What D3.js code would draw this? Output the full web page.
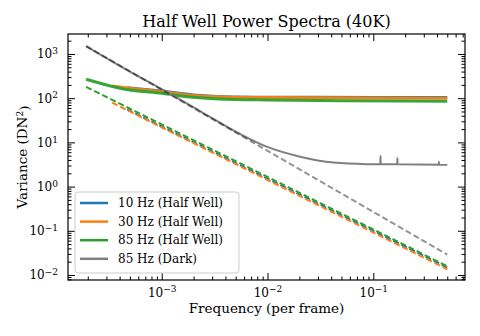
<!DOCTYPE html>
<html>
<head>
<meta charset="utf-8">
<script src="https://cdn.jsdelivr.net/npm/d3@7"></script>
<style>
  body { margin: 0; background: #fff; }
  svg { font-family: "DejaVu Serif", serif; }
</style>
</head>
<body>
<div id="chart"></div>
<script>
/* Data: [frequency (per frame), variance (DN^2)] */

var blueHalf = [[4.7e-4, 172], [7e-4, 158], [1e-3, 145], [2e-3, 118], [4e-3, 108], [1e-2, 105], [0.1, 104], [0.5, 104]];
var orangeHalf = [[3.4e-4, 190], [5e-4, 168], [1e-3, 140], [2e-3, 115], [4e-3, 106], [1e-2, 103], [0.1, 101], [0.5, 100]];
var greenHalf = [[1.93e-4, 268], [3.5e-4, 182], [5e-4, 153], [1e-3, 129], [1.85e-3, 106], [3.5e-3, 96], [1e-2, 91], [0.05, 88], [0.5, 85]];
var grayDark = [[1.93e-4, 1500], [5e-4, 400], [1e-3, 160], [2.3e-3, 51], [5.5e-3, 15.5], [9.8e-3, 8.0], [0.0203, 4.75], [0.042, 3.5],
  [0.0865, 3.22], [0.1165, 3.2], [0.117, 4.9], [0.1175, 3.2], [0.1685, 3.2], [0.169, 4.4], [0.1695, 3.2],
  [0.416, 3.12], [0.417, 3.66], [0.418, 3.12], [0.5, 3.1]];

// power-law fits (straight in log-log), endpoints only
var blueFit = [[4.7e-4, 56], [0.5, 0.0148]];
var orangeFit = [[3.4e-4, 79], [0.5, 0.0135]];
var greenFit = [[1.93e-4, 180], [0.5, 0.0158]];
var grayFit = [[1.93e-4, 1500], [0.5, 0.029]];

var legendLabels = ["10 Hz (Half Well)", "30 Hz (Half Well)", "85 Hz (Half Well)", "85 Hz (Dark)"];
var colors = ["#1f77b4", "#ff7f0e", "#2ca02c", "#7f7f7f"];

var xMajor = [1e-3, 1e-2, 1e-1];
var yMajor = [1e-2, 1e-1, 1e0, 1e1, 1e2, 1e3];

/* Layout */

var width = 480, height = 336;
var pL = 68, pR = 465, pT = 34, pB = 280;

var svg = d3.select("#chart").append("svg")
	.attr("width", width)
	.attr("height", height);

var x = d3.scaleLog().domain([Math.pow(10, -3.886), Math.pow(10, -0.1333)]).range([pL, pR]);
var y = d3.scaleLog().domain([Math.pow(10, -2.113), Math.pow(10, 3.452)]).range([pB, pT]);

function minors(scale) {
	var d = scale.domain(), out = [];
	for (var e = Math.floor(Math.log10(d[0])); e <= Math.ceil(Math.log10(d[1])); e++) {
		for (var m = 2; m <= 9; m++) {
			var v = m * Math.pow(10, e);
			if (v >= d[0] && v <= d[1]) out.push(v);
		}
	}
	return out;
}

function supLabel(sel) { // turn "1e-3" ticks into 10 with superscript
	sel.selectAll("text").each(function(d) {
		var t = d3.select(this), e = Math.round(Math.log10(d));
		t.text(null);
		t.append("tspan").text("10");
		t.append("tspan").attr("dy", "-0.45em").attr("font-size", "9px")
			.text(String(e).replace("-", "\u2212"));
	});
}

/* Axes (ticks pointing in, on all four sides) */

var gx = svg.append("g").attr("transform", "translate(0," + pB + ")");
gx.call(d3.axisBottom(x).tickValues(minors(x)).tickSizeInner(-3.5).tickSizeOuter(0).tickFormat(""));
gx.append("g").call(d3.axisBottom(x).tickValues(xMajor).tickSizeInner(-7).tickSizeOuter(0).tickPadding(8))
	.call(supLabel);

var gxt = svg.append("g").attr("transform", "translate(0," + pT + ")");
gxt.call(d3.axisTop(x).tickValues(minors(x)).tickSizeInner(-3.5).tickSizeOuter(0).tickFormat(""));
gxt.append("g").call(d3.axisTop(x).tickValues(xMajor).tickSizeInner(-7).tickSizeOuter(0).tickFormat(""));

var gy = svg.append("g").attr("transform", "translate(" + pL + ",0)");
gy.call(d3.axisLeft(y).tickValues(minors(y)).tickSizeInner(-3.5).tickSizeOuter(0).tickFormat(""));
gy.append("g").call(d3.axisLeft(y).tickValues(yMajor).tickSizeInner(-7).tickSizeOuter(0).tickPadding(10))
	.call(supLabel);

var gyr = svg.append("g").attr("transform", "translate(" + pR + ",0)");
gyr.call(d3.axisRight(y).tickValues(minors(y)).tickSizeInner(-3.5).tickSizeOuter(0).tickFormat(""));
gyr.append("g").call(d3.axisRight(y).tickValues(yMajor).tickSizeInner(-7).tickSizeOuter(0).tickFormat(""));

svg.selectAll(".domain").remove();
svg.selectAll(".tick line").attr("stroke", "#000").attr("stroke-width", 1);
svg.selectAll(".tick text").attr("font-family", "DejaVu Serif").attr("font-size", "12px").attr("fill", "#000");

/* Lines */

var plot = svg.append("g");
plot.append("clipPath").attr("id", "clip").append("rect")
	.attr("x", pL).attr("y", pT).attr("width", pR - pL).attr("height", pB - pT);
plot.attr("clip-path", "url(#clip)");

var line = d3.line().x(function(d) { return x(d[0]); }).y(function(d) { return y(d[1]); });
var smooth = d3.line().curve(d3.curveMonotoneX).x(function(d) { return x(d[0]); }).y(function(d) { return y(d[1]); });

var series = [
	{ data: blueHalf, fit: blueFit, color: colors[0] },
	{ data: orangeHalf, fit: orangeFit, color: colors[1] },
	{ data: greenHalf, fit: greenFit, color: colors[2] }
];
series.forEach(function(s) {
	plot.append("path").attr("d", smooth(s.data)).attr("fill", "none")
		.attr("stroke", s.color).attr("stroke-width", 3).attr("stroke-opacity", 0.95);
	plot.append("path").attr("d", line(s.fit)).attr("fill", "none")
		.attr("stroke", s.color).attr("stroke-width", 2).attr("stroke-dasharray", "6,3");
});

plot.append("path").attr("d", smooth(grayDark)).attr("fill", "none")
	.attr("stroke", colors[3]).attr("stroke-width", 2);
plot.append("path").attr("d", line(grayFit)).attr("fill", "none")
	.attr("stroke", "#000").attr("stroke-opacity", 0.42).attr("stroke-width", 2).attr("stroke-dasharray", "6,3");

/* Frame */

svg.append("rect").attr("x", pL).attr("y", pT).attr("width", pR - pL).attr("height", pB - pT)
	.attr("fill", "none").attr("stroke", "#000").attr("stroke-width", 1.2);

/* Legend */

var legend = svg.append("g").attr("transform", "translate(75,192)");
legend.append("rect").attr("width", 164).attr("height", 81).attr("rx", 3)
	.attr("fill", "#fff").attr("fill-opacity", 0.8).attr("stroke", "#ccc");
legendLabels.forEach(function(l, i) {
	var yy = 11 + i * 18.6;
	legend.append("line").attr("x1", 5).attr("x2", 33).attr("y1", yy).attr("y2", yy)
		.attr("stroke", colors[i]).attr("stroke-width", 2.5);
	legend.append("text").attr("x", 43).attr("y", yy).attr("dy", "0.35em")
		.attr("font-size", "12px").text(l);
});

/* Titles */

svg.append("text").attr("x", (pL + pR) / 2).attr("y", 27).attr("text-anchor", "middle")
	.attr("font-size", "16px").text("Half Well Power Spectra (40K)");

svg.append("text").attr("x", (pL + pR) / 2).attr("y", 313).attr("text-anchor", "middle")
	.attr("font-size", "13.5px").text("Frequency (per frame)");

var yl = svg.append("text").attr("transform", "translate(27," + (pT + pB) / 2 + ") rotate(-90)")
	.attr("text-anchor", "middle").attr("font-size", "13.5px");
yl.append("tspan").text("Variance (DN");
yl.append("tspan").attr("dy", "-0.45em").attr("font-size", "9px").text("2");
yl.append("tspan").attr("dy", "0.45em").text(")");
</script>
</body>
</html>
